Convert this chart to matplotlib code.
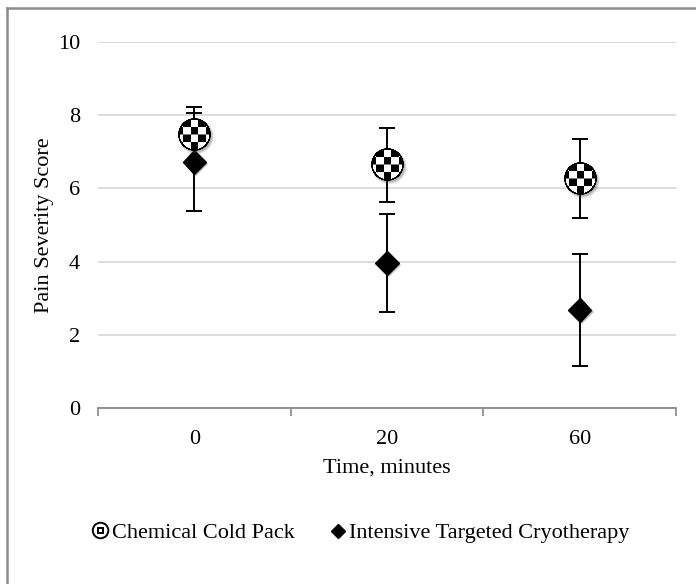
import numpy as np
import matplotlib
matplotlib.use("Agg")
import matplotlib.pyplot as plt
import matplotlib.patheffects as pe
from matplotlib.offsetbox import OffsetImage, AnnotationBbox
from matplotlib.legend_handler import HandlerBase
from matplotlib.patches import Circle, Rectangle
from matplotlib.lines import Line2D

plt.rcParams['font.family'] = ['Liberation Serif', 'DejaVu Serif']

# data
times = ['0', '20', '60']
cold_pack = [7.46, 6.64, 6.26]
cold_pack_err = [0.76, 1.0, 1.08]
cryo = [6.72, 3.96, 2.68]
cryo_err = [1.35, 1.33, 1.52]

FS = 16


def checker_disc(n=200, frac=0.8):
    # RGBA picture of a checkered ball with a soft shadow
    yy, xx = np.mgrid[0:n, 0:n] + 0.5
    c = n / 2
    r = frac * n / 2
    img = np.zeros((n, n, 4))
    ds = np.hypot(xx - c - 0.04 * n, yy - c - 0.05 * n)
    sh = np.clip((r + 0.04 * n - ds) / (0.08 * n), 0, 1) * 0.45
    img[..., :3] = 0.3
    img[..., 3] = sh
    d = np.hypot(xx - c, yy - c)
    cell = n * 0.19
    chk = ((np.floor((xx - c + cell / 2) / cell) + np.floor((yy - c) / cell)) % 2).astype(float)
    inside = d <= r
    col = np.where(chk > 0, 0.0, 1.0)
    ring = (d > r - 0.04 * n) & inside
    col = np.where(ring, 0.0, col)
    edge = np.clip(r + 0.6 - d, 0, 1)
    for k in range(3):
        img[..., k] = img[..., k] * (1 - edge) + col * edge
    img[..., 3] = np.maximum(img[..., 3], edge)
    return img


class CheckerHandler(HandlerBase):
    def create_artists(self, legend, orig_handle, xdescent, ydescent,
                       width, height, fontsize, trans):
        cx = width / 2 - xdescent
        cy = height / 2 - ydescent
        r = 0.5 * height
        circ = Circle((cx, cy), r, facecolor='white', edgecolor='black',
                      lw=1.4, transform=trans)
        s = r * 1.0
        sq = Rectangle((cx - s / 2, cy - s / 2), s, s, facecolor='black',
                       edgecolor='none', transform=trans)
        s2 = s * 0.35
        sq2 = Rectangle((cx - s2 / 2, cy - s2 / 2), s2, s2, facecolor='white',
                        edgecolor='none', transform=trans)
        return [circ, sq, sq2]


fig = plt.figure(figsize=(6.96, 5.84), dpi=100)
ax = fig.add_axes([98 / 696, 1 - 408 / 584, (676 - 98) / 696, (408 - 42) / 584])

x = np.arange(len(times))

ax.errorbar(x, cryo, yerr=cryo_err, fmt='none', ecolor='black', elinewidth=1.4,
            capsize=6, capthick=1.4, zorder=3)
ax.errorbar(x, cold_pack, yerr=cold_pack_err, fmt='none', ecolor='black',
            elinewidth=1.4, capsize=6, capthick=1.4, zorder=3)
ax.plot(x, cryo, linestyle='none', marker='D', markersize=12, color='black',
        zorder=4,
        path_effects=[pe.SimplePatchShadow(offset=(1.5, -1.5), shadow_rgbFace='gray', alpha=0.5),
                      pe.Normal()])

disc = checker_disc()
for xi, yi in zip(x, cold_pack):
    ab = AnnotationBbox(OffsetImage(disc, zoom=0.145), (xi, yi), frameon=False,
                        pad=0, zorder=5)
    ax.add_artist(ab)

ax.set_xlim(-0.5, len(times) - 0.5)
ax.set_ylim(0, 10)
ax.set_yticks(np.arange(0, 11, 2))
ax.yaxis.grid(True, color='#d9d9d9', lw=1.3)
ax.set_axisbelow(True)
ax.tick_params(axis='y', length=0, pad=13, labelsize=FS)

ax.set_xticks(np.arange(-0.5, len(times)), minor=False)
ax.set_xticklabels([])
ax.set_xticks(x, minor=True)
ax.set_xticklabels(times, minor=True)
ax.tick_params(axis='x', which='major', length=6, width=1.2, color='#888888')
ax.tick_params(axis='x', which='minor', length=0, pad=16, labelsize=FS)

for s in ['top', 'right', 'left']:
    ax.spines[s].set_visible(False)
ax.spines['bottom'].set_color('#888888')
ax.spines['bottom'].set_linewidth(1.3)

ax.set_xlabel('Time, minutes', fontsize=FS, labelpad=7)
ax.set_ylabel('Pain Severity Score', fontsize=FS, labelpad=3)

h1 = Line2D([], [], linestyle='none')
h2 = Line2D([], [], linestyle='none', marker='D', markersize=7, color='black')
fig.legend([h1, h2], ['Chemical Cold Pack', 'Intensive Targeted Cryotherapy'],
           handler_map={h1: CheckerHandler()}, loc='center',
           bbox_to_anchor=(361 / 696, 1 - 533 / 584), ncol=2, frameon=False,
           fontsize=FS, handlelength=0.7, handletextpad=0.15, columnspacing=1.6)

# outer chart frame
fig.add_artist(Line2D([7 / 696, 7 / 696], [0, 1 - 8 / 584], color='#8c8c8c', lw=1.8))
fig.add_artist(Line2D([7 / 696, 1], [1 - 8 / 584, 1 - 8 / 584], color='#8c8c8c', lw=1.8))

fig.savefig('out.png', dpi=100)
